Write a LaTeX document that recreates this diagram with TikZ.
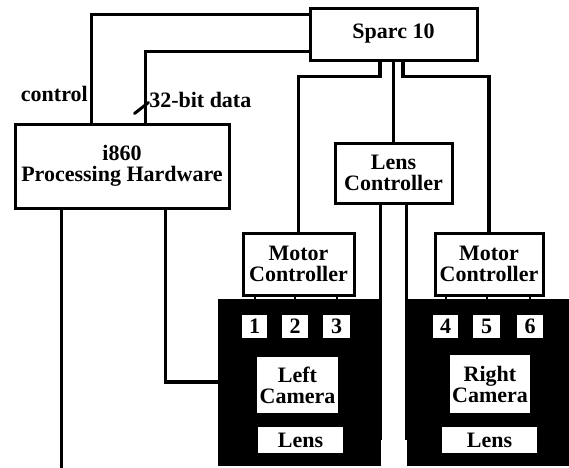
\documentclass[tikz,border=0pt]{standalone}
\usepackage{fontspec}
\setmainfont{Liberation Serif}
\usepackage{tikz}
\usetikzlibrary{positioning,calc}
\tikzset{
  unit/.style  = {rectangle, draw=black, fill=white, line width=3pt, inner sep=0pt,
                  align=center, font=\bfseries\fontsize{22}{21}\selectfont},
  cam/.style   = {rectangle, draw=black, fill=black, line width=1pt, inner sep=0pt},
  pad/.style   = {rectangle, fill=white, inner sep=0pt, align=center,
                  font=\bfseries\fontsize{22}{21}\selectfont},
  wire/.style  = {line width=3.5pt, draw=black, line cap=butt},
  tick/.style  = {line width=2pt, draw=black},
  lbl/.style   = {font=\bfseries\fontsize{22}{21}\selectfont, inner sep=2pt},
}

\begin{document}
\begin{tikzpicture}[x=1pt, y=-1pt]
  \useasboundingbox (0,0) rectangle (569,467);
  % computers
  \node[unit, minimum width=167pt, minimum height=52pt] (sparc) at (393.5,34) {Sparc 10};
  \node[unit, minimum width=214pt, minimum height=84pt] (i860) at (122,166) {i860\\Processing Hardware};
  \node[unit, minimum width=117pt, minimum height=60pt] (lensctl) at (393.5,173) {Lens\\Controller};
  \node[unit, minimum width=111pt, minimum height=62pt] (motorL) at (298.5,264) {Motor\\Controller};
  \node[unit, minimum width=108pt, minimum height=62pt] (motorR) at (489,264) {Motor\\Controller};
  % camera heads
  \node[cam, minimum width=162pt, minimum height=166pt] (camL) at (299,382) {};
  \node[cam, minimum width=161pt, minimum height=166pt] (camR) at (487.5,382) {};
  \node[pad, minimum width=25pt, minimum height=23pt] (n1) at (254.5,326.5) {1};
  \node[pad, minimum width=26pt, minimum height=23pt] (n2) at (295,326.5) {2};
  \node[pad, minimum width=27pt, minimum height=23pt] (n3) at (336.5,326.5) {3};
  \node[pad, minimum width=25pt, minimum height=23pt] (n4) at (445.5,326.5) {4};
  \node[pad, minimum width=27pt, minimum height=23pt] (n5) at (486.5,326.5) {5};
  \node[pad, minimum width=26pt, minimum height=23pt] (n6) at (530,326.5) {6};
  \node[pad, minimum width=81pt, minimum height=56pt] (leftcam) at (297.5,385) {Left\\Camera};
  \node[pad, minimum width=80pt, minimum height=58pt] (rightcam) at (490,384) {Right\\Camera};
  \node[pad, minimum width=85pt, minimum height=26pt] (lensL) at (300.5,440) {Lens};
  \node[pad, minimum width=95pt, minimum height=26pt] (lensR) at (489.5,440) {Lens};
  % links to the Sparc
  \draw[wire] ($(i860.north west)+(78,0)$) |- node[lbl, left, pos=0.13] {control} ($(sparc.north west)+(0,8)$);
  \draw[wire] ($(i860.north west)+(132,0)$) |- node[lbl, right, pos=0.16] {32-bit data} ($(sparc.north west)+(0,45)$);
  \coordinate (bus) at ($(i860.north west)+(132,-17)$);
  \draw[line width=3pt, line cap=round] ($(bus)+(-11,8)$) -- ($(bus)+(3,-3)$);
  \draw[wire] ($(sparc.south)+(-13.5,0)$) -- ++(0,15) -| (motorL.north);
  \draw[wire] (sparc.south) -- (lensctl.north);
  \draw[wire] ($(sparc.south)+(9.5,0)$) -- ++(0,15) -| (motorR.north);
  % lens drives
  \draw[wire] (lensctl.south -| camL.east) -- (camL.east |- lensL.center);
  \draw[wire] (lensctl.south -| camR.west) -- (camR.west |- lensR.center);
  % video
  \draw[wire] ($(i860.south west)+(152,0)$) |- (camL.west);
  \coordinate (exit) at ($(i860.south west)+(48,259)$);
  \draw[wire] ($(i860.south west)+(48,0)$) -- (exit);
  % motor axes
  \foreach \p in {n1,n2,n3}
    \draw[tick] (motorL.south -| \p) -- (camL.north -| \p);
  \foreach \p in {n4,n5,n6}
    \draw[tick] (motorR.south -| \p) -- (camR.north -| \p);
\end{tikzpicture}
\end{document}
